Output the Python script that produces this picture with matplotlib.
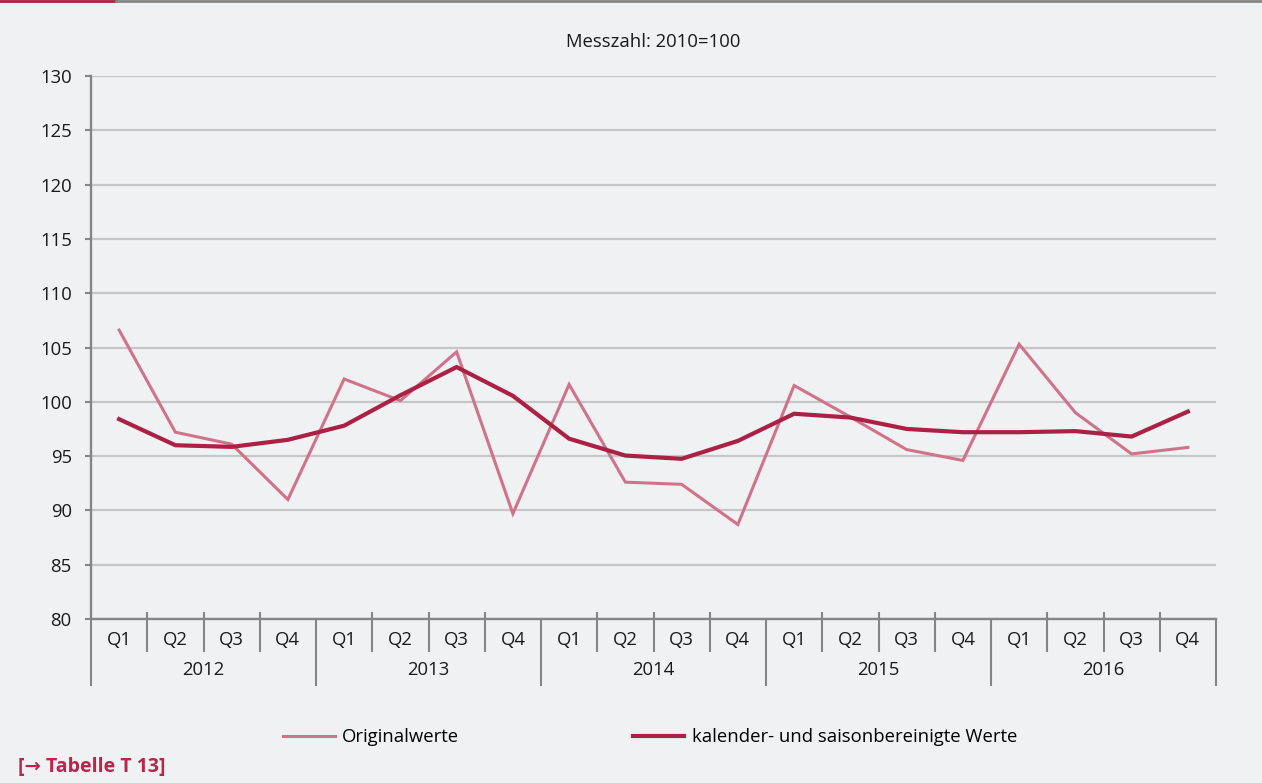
import matplotlib
matplotlib.use("Agg")
import matplotlib.pyplot as plt
from matplotlib.lines import Line2D
import numpy as np

plt.rcParams['font.family'] = ['Open Sans', 'DejaVu Sans']

years = ["2012", "2013", "2014", "2015", "2016"]
quarters = ["Q1", "Q2", "Q3", "Q4"]
original = [106.6, 97.2, 96.1, 91.0,
            102.1, 100.1, 104.6, 89.7,
            101.6, 92.6, 92.4, 88.7,
            101.5, 98.6, 95.6, 94.6,
            105.3, 99.0, 95.2, 95.8]
adjusted = [98.4, 96.0, 95.85, 96.5,
            97.8, 100.6, 103.2, 100.55,
            96.6, 95.05, 94.75, 96.4,
            98.9, 98.55, 97.5, 97.2,
            97.2, 97.3, 96.8, 99.1]
title = "Messzahl: 2010=100"
legend_labels = ["Originalwerte", "kalender- und saisonbereinigte Werte"]

BG = "#f0f1f3"
PINK = "#d1728b"
DARK = "#ab2145"
GRID = "#c6c6c8"
AXC = "#858585"
TXT = "#1a1a1a"
FS = 13.3

W, H = 1262, 783
fig = plt.figure(figsize=(W / 100, H / 100), dpi=100, facecolor=BG)
ax = fig.add_axes([91 / W, 1 - 619 / H, (1216 - 91) / W, (619 - 76) / H])
ax.set_facecolor(BG)

x = np.arange(len(original))
ax.plot(x, original, color=PINK, lw=2.2, solid_joinstyle='miter', zorder=3)
ax.plot(x, adjusted, color=DARK, lw=3.0, solid_joinstyle='miter', zorder=4)

ax.set_xlim(-0.5, len(original) - 0.5)
ax.set_ylim(80, 130)
ax.set_yticks(np.arange(80, 131, 5))
ax.yaxis.grid(True, color=GRID, lw=1.6, zorder=0)
ax.set_axisbelow(True)
ax.tick_params(axis='y', length=4.3, width=1.5, color=AXC, pad=9.5, labelsize=FS, labelcolor=TXT)

for s in ['top', 'right']:
    ax.spines[s].set_visible(False)
for s in ['left', 'bottom']:
    ax.spines[s].set_color(AXC)
    ax.spines[s].set_linewidth(1.7)

# x labels
ax.set_xticks(x)
ax.set_xticklabels([q for _ in years for q in quarters])
ax.tick_params(axis='x', length=0, pad=9, labelsize=FS, labelcolor=TXT)

trans = ax.get_xaxis_transform()
n = len(original)
for b in np.arange(-0.5, n, 1.0):
    idx = int(b + 0.5)
    if idx % 4 == 0:
        ax.plot([b, b], [0.0, -0.121], transform=trans, color=AXC, lw=1.5, clip_on=False)
    else:
        ax.plot([b, b], [0.011, -0.059], transform=trans, color=AXC, lw=1.5, clip_on=False)
for i, yr in enumerate(years):
    ax.text(i * 4 + 1.5, -0.094, yr, transform=trans, ha='center', va='center',
            fontsize=FS, color=TXT)

ax.text(0.5, 1 + 34 / 543, title, transform=ax.transAxes, ha='center', va='center',
        fontsize=FS, color=TXT)

handles = [Line2D([], [], color=PINK, lw=2.2), Line2D([], [], color=DARK, lw=3.0)]
fig.legend(handles, legend_labels, loc='center', bbox_to_anchor=(650 / W, 1 - 737 / H),
           ncol=2, frameon=False, fontsize=FS, handlelength=2.8, handletextpad=0.4,
           columnspacing=9.4)

# top bar
fig.add_artist(Line2D([0, 116 / W], [1 - 1 / H, 1 - 1 / H], transform=fig.transFigure, color=DARK, lw=2))
fig.add_artist(Line2D([116 / W, 1], [1 - 1 / H, 1 - 1 / H], transform=fig.transFigure, color=AXC, lw=2))

fig.text(18 / W, 1 - 767 / H, "[\u2192 Tabelle T 13]", fontsize=14, fontweight='bold',
         color="#b5284b", ha='left', va='center')

fig.savefig("out.png", dpi=100, facecolor=BG)
